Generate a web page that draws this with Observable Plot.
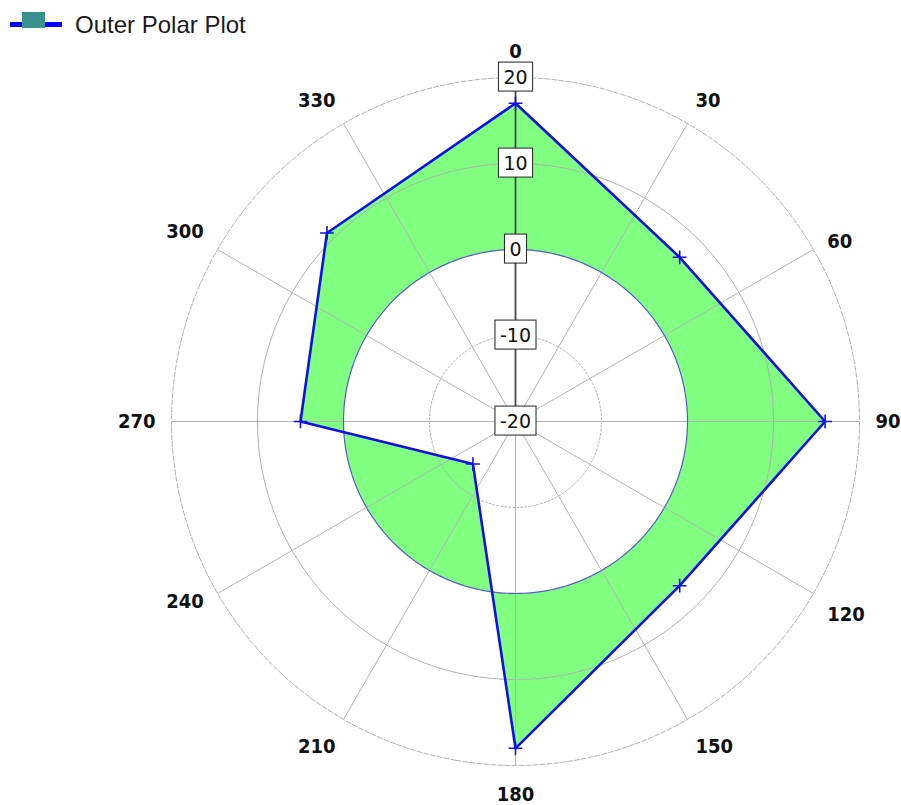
<!DOCTYPE html>
<html>
<head>
<meta charset="utf-8">
<script src="https://cdn.jsdelivr.net/npm/d3@7"></script>
<script src="https://cdn.jsdelivr.net/npm/@observablehq/plot@0.6"></script>
<style>
  body { margin: 0; background: #fff; }
  #wrap { position: relative; width: 901px; height: 805px; overflow: hidden; }
  #chart { position: absolute; left: 0; top: 0; }
  #legend { position: absolute; left: 0; top: 0; width: 300px; height: 50px; }
  #legend span { position: absolute; left: 75px; top: 13px; font: 24px "Liberation Sans", Arial, sans-serif; line-height: 24px; color: #1a1a1a; white-space: nowrap; }
</style>
</head>
<body>
<div id="wrap">
  <div id="chart"></div>
  <div id="legend">
    <svg width="70" height="50" style="position:absolute;left:0;top:0">
      <line x1="10" x2="62" y1="24.5" y2="24.5" stroke="#0000ff" stroke-width="5"></line>
      <rect x="22" y="12" width="23" height="16" fill="#3a928e"></rect>
    </svg>
    <span>Outer Polar Plot</span>
  </div>
</div>
<script>
// ---- data ----
const angles = [0, 45, 90, 135, 180, 225, 270, 315];
const values = [17, 7, 16, 7, 18, -13, 5, 11];
const radialTicks = [20, 10, 0, -10, -20];
const angleTicks = [0, 30, 60, 90, 120, 150, 180, 210, 240, 270, 300, 330];
const baseline = 0;           // fill reference circle
const rMin = -20, rMax = 20;
const labelValue = 21.86;     // radius at which angle labels are anchored

// ---- polar helpers (angle clockwise from top -> longitude, radius -> latitude) ----
const DEG = 2;
const lon = (a) => 180 - a;
const lat = (v) => 90 - (v - rMin) * DEG;

const polyRows = angles.map((a, i) => ({lon: lon(a), lat: lat(values[i])}));
const ringAngles = d3.range(0, 360, 2);
const ringRows = ringAngles.map((a) => ({lon: lon(a), lat: lat(baseline)}));
const xorRows = [...polyRows, {lon: NaN, lat: NaN}, ...ringRows];

const circle = (v) => d3.geoCircle().center([0, 90]).radius((v - rMin) * DEG).precision(1)();

// angle label alignment rules
const hAnchor = (a) => (a === 0 || a === 180) ? "middle" : a < 180 ? "start" : "end";
const vAnchor = (a) => [0, 30, 300, 330].includes(a) ? "bottom" : [120, 150, 180, 210].includes(a) ? "top" : "middle";
const vShift = {bottom: -9.5, middle: 0.5, top: 13};
const labelGroups = d3.groups(angleTicks, (a) => hAnchor(a) + "|" + vAnchor(a));

const chart = Plot.plot({
  width: 901,
  height: 805,
  margin: 0,
  style: {fontFamily: "'DejaVu Sans', Verdana, sans-serif", background: "white", overflow: "visible"},
  projection: {
    type: "azimuthal-equidistant",
    rotate: [0, -90],
    domain: circle(rMax),
    insetLeft: 171, insetRight: 42, insetTop: 77, insetBottom: 40
  },
  marks: [
    // green fill between polygon and the 0 circle
    Plot.line(xorRows, {x: "lon", y: "lat", curve: "linear-closed", fill: "#80ff80", stroke: "none", ariaDescription: "xorfill"}),
    // grid circles
    Plot.geo([10], {geometry: circle, stroke: "#b0b0b0", strokeWidth: 1}),
    Plot.geo([20], {geometry: circle, stroke: "#b0b0b0", strokeWidth: 1, strokeDasharray: "5,2"}),
    Plot.geo([-10], {geometry: circle, stroke: "#b0b0b0", strokeWidth: 1, strokeDasharray: "2,2"}),
    // spokes
    Plot.link(angleTicks, {x1: 0, y1: 90, x2: (a) => lon(a), y2: lat(rMax), stroke: "#b4b4b4", strokeWidth: 1}),
    // baseline circle
    Plot.geo([baseline], {geometry: circle, stroke: "#5a5ad0", strokeWidth: 1.2}),
    // radial axis
    Plot.link([0], {x1: 0, y1: 90, x2: (a) => lon(a), y2: lat(rMax), stroke: "#484848", strokeWidth: 1.8}),
    // outer polygon
    Plot.line(polyRows, {x: "lon", y: "lat", curve: "linear-closed", stroke: "#1010e6", strokeWidth: 2.6}),
    Plot.dot(polyRows, {x: "lon", y: "lat", symbol: "plus", r: 4.5, stroke: "#1010e6", strokeWidth: 1.6}),
    // angle labels
    ...labelGroups.map(([key, arr]) => {
      const [h, v] = key.split("|");
      return Plot.text(arr, {
        x: (a) => lon(a), y: lat(labelValue), text: (a) => String(a),
        textAnchor: h, lineAnchor: "middle", dy: vShift[v],
        fontSize: 20, fontWeight: "bold", fill: "#111",
        fontFamily: "'DejaVu Sans Condensed', 'DejaVu Sans', sans-serif"
      });
    }),
    // radial labels
    Plot.text(radialTicks, {x: lon(0), y: (v) => lat(v), text: (v) => String(v), fontSize: 19, fill: "#111", ariaDescription: "rlabels"})
  ]
});

document.getElementById("chart").append(chart);

const svg = d3.select(chart);
svg.select('g[aria-description="xorfill"]').attr("fill-rule", "evenodd").selectAll("path").attr("fill-rule", "evenodd");
svg.select('g[aria-description="rlabels"]').selectAll("text").each(function () {
  const bb = this.getBBox();
  const padX = 5, padY = 3.5;
  const r = d3.select(this.parentNode).insert("rect", () => this)
    .attr("x", bb.x - padX).attr("y", bb.y - padY)
    .attr("width", bb.width + 2 * padX).attr("height", bb.height + 2 * padY)
    .attr("fill", "white").attr("stroke", "#222").attr("stroke-width", 1);
  const t = this.getAttribute("transform");
  if (t) r.attr("transform", t);
});
</script>
</body>
</html>
